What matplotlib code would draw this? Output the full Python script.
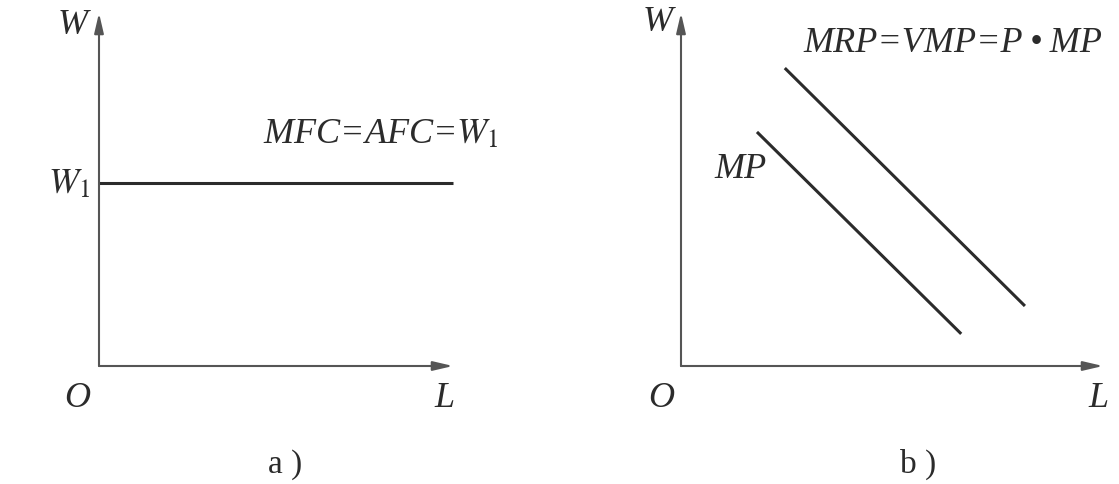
import matplotlib
matplotlib.use('Agg')
import matplotlib.pyplot as plt

plt.rcParams['font.family'] = ['Liberation Serif', 'DejaVu Serif']
plt.rcParams['mathtext.fontset'] = 'stix'

# panel a) : flat factor supply, W1 level
w1 = 5.18
flat_L = [0, 10]
flat_W = [w1, w1]

# panel b) : two downward sloping demand lines
mrp_L = [2.46, 8.15]
mrp_W = [8.44, 1.70]
mp_L = [1.80, 6.64]
mp_W = [6.63, 0.91]

W, H = 1119, 484
ink = '#2b2b2b'
axis_col = '#555555'
fs = 26

fig = plt.figure(figsize=(W / 100, H / 100), dpi=100)
fig.patch.set_facecolor('white')


def make_panel(left_px, right_px):
    ax = fig.add_axes([left_px / W, (H - 366) / H, (right_px - left_px) / W, (366 - 13) / H])
    ax.set_xlim(0, 10)
    ax.set_ylim(0, 10)
    ax.axis('off')
    arrow = dict(arrowstyle='-|>,head_length=1.2,head_width=0.28', color=axis_col, lw=1.5,
                 shrinkA=0, shrinkB=0)
    ax.annotate('', xy=(10, 0), xytext=(0, 0), arrowprops=arrow, annotation_clip=False)
    ax.annotate('', xy=(0, 10), xytext=(0, 0), arrowprops=arrow, annotation_clip=False)
    return ax


txt = dict(color=ink, fontsize=fs, style='italic', ha='center', va='center', clip_on=False)
cap = dict(color=ink, fontsize=fs - 2, ha='center', va='center', clip_on=False)

ax1 = make_panel(99, 453)
ax1.plot(flat_L, flat_W, color=ink, lw=2.2, solid_capstyle='butt', clip_on=False)
ax1.text(-0.73, 9.66, 'W', **txt)
ax1.text(-0.85, 5.13, '$W_1$', **txt)
ax1.text(-0.62, -0.93, 'O', **txt)
ax1.text(9.75, -0.93, 'L', **txt)
ax1.text(4.63, 6.55, 'MFC=AFC=$W_1$', **{**txt, 'ha': 'left'})
ax1.text(5.25, -2.8, 'a )', **cap)

ax2 = make_panel(681, 1103)
ax2.plot(mrp_L, mrp_W, color=ink, lw=2.2, solid_capstyle='butt', clip_on=False)
ax2.plot(mp_L, mp_W, color=ink, lw=2.2, solid_capstyle='butt', clip_on=False)
ax2.text(-0.55, 9.72, 'W', **txt)
ax2.text(-0.47, -0.93, 'O', **txt)
ax2.text(9.9, -0.93, 'L', **txt)
ax2.text(2.89, 9.15, 'MRP=VMP=P\u2009\u2022\u2009MP', **{**txt, 'ha': 'left'})
ax2.text(1.42, 5.58, 'MP', **txt)
ax2.text(5.62, -2.8, 'b )', **cap)

fig.savefig('out.png', dpi=100, facecolor='white')
